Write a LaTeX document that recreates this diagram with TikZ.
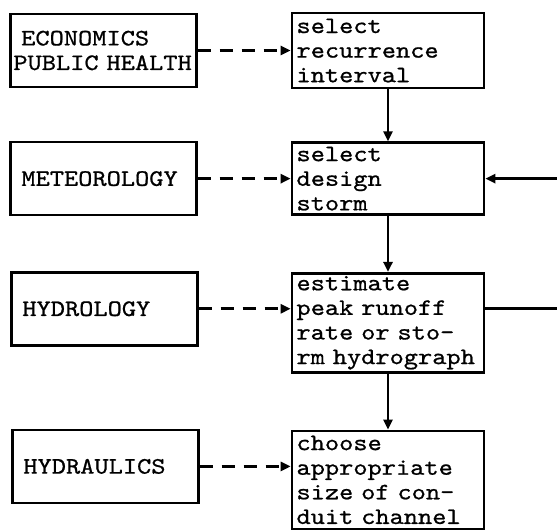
\documentclass[tikz,border=0pt]{standalone}
\usepackage{fontspec}
\setmonofont{lmmono10-regular.otf}[FakeStretch=1.15, FakeBold=0.8]
\usetikzlibrary{arrows.meta, positioning, calc}

\begin{document}
\begin{tikzpicture}[
    node distance=1.04cm and 1.86cm,
    stagebox/.style={rectangle, draw=black, line width=1.5pt, minimum height=#1,
                     text width=3.66cm, inner xsep=0.09cm, inner ysep=0.04cm, align=left,
                     font=\ttfamily\fontsize{13.4}{14}\selectfont},
    stagebox/.default={1.5cm},
    srcbox/.style={rectangle, draw=black, line width=1.5pt, minimum height=1.46cm,
                   text width=3.28cm, inner xsep=0.22cm, align=left,
                   font=\ttfamily\fontsize{13.4}{14}\selectfont},
    arr/.style={-{Triangle[length=2mm, width=1.8mm]}, line width=1.5pt},
    dasharr/.style={arr, dash pattern=on 0.26cm off 0.18cm}
]
\useasboundingbox (0,0) rectangle (11.14,-10.6);

% --- Design steps ---
\node[stagebox] (rec) at (7.76,-1.01) {select\\recurrence\\interval};
\node[stagebox=1.44cm, below=of rec] (storm) {select\\design\\storm};
\node[stagebox=1.98cm, below=1.12cm of storm] (est) {estimate\\peak~runoff\\rate~or~sto-\\rm~hydrograph};
\node[stagebox=1.96cm, below=1.12cm of est] (choose) {choose\\appropriate\\size~of~con-\\duit~channel};

% --- Disciplines ---
\node[srcbox, inner xsep=0.06cm, text width=3.6cm, left=of rec] (econ) {~ECONOMICS\\PUBLIC~HEALTH};
\node[srcbox, left=of storm] (met) {METEOROLOGY};
\node[srcbox, left=1.84cm of est, yshift=0.28cm] (hydro) {HYDROLOGY};
\node[srcbox, left=1.82cm of choose, yshift=0.27cm] (hydra) {HYDRAULICS};

% --- Arrows: steps ---
\draw[arr] (rec) -- (storm);
\draw[arr] (storm) -- (est);
\draw[arr] (est) -- (choose);

% --- Arrows: disciplines -> steps ---
\draw[dasharr] (econ.east) -- (econ.east -| rec.west);
\draw[dasharr] (met.east) -- (met.east -| storm.west);
\draw[dasharr] (hydro.east) -- (hydro.east -| est.west);
\draw[dasharr] (hydra.east) -- (hydra.east -| choose.west);

% --- Feedback loop ---
\coordinate[right=1.5cm of storm.east] (loop);
\draw[arr] ([yshift=0.29cm]est.east) -| (loop) -- (storm.east);

\end{tikzpicture}
\end{document}
